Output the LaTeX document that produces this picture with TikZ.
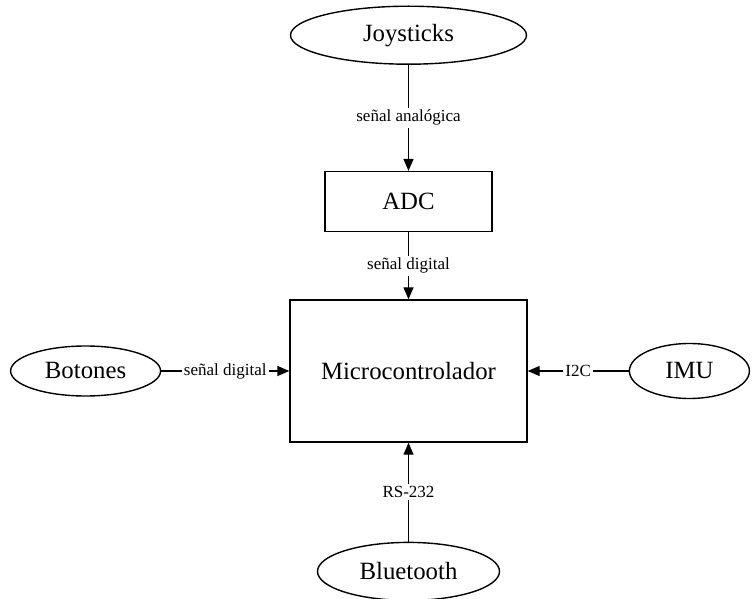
\documentclass[tikz,border=0pt]{standalone}
\usepackage{fontspec}
\setmainfont{Liberation Serif}
\usepackage{tikz}
\usetikzlibrary{arrows.meta,positioning,shapes.geometric}

\begin{document}
\begin{tikzpicture}[
  font=\fontsize{12.4}{14}\selectfont,
  ell/.style={draw, ellipse, line width=0.7pt, inner sep=0pt},
  blk/.style={draw, rectangle, line width=0.7pt, inner sep=0pt},
  lbl/.style={fill=white, inner sep=1pt, font=\fontsize{8.5}{10}\selectfont},
  arr/.style={-{Triangle[length=6pt,width=5pt]}, line width=0.7pt}
]
\useasboundingbox (0,0) rectangle (378pt,-299.5pt);
\node[blk, minimum width=118.5pt, minimum height=71pt] (mcu) at (204.25pt,-185.5pt) {Microcontrolador};
\node[blk, minimum width=83.5pt, minimum height=30pt, above=33.5pt of mcu] (adc) {ADC};
\node[ell, minimum width=118pt, minimum height=29pt, above=53pt of adc] (joy) {Joysticks};
\node[ell, minimum width=75pt, minimum height=25pt, left=64pt of mcu] (btn) {Botones};
\node[ell, minimum width=60pt, minimum height=27.5pt, right=50.5pt of mcu] (imu) {IMU};
\node[ell, minimum width=91pt, minimum height=29pt, below=49.5pt of mcu] (bt) {Bluetooth};
\draw[arr] (joy) -- node[lbl] {señal analógica} (adc);
\draw[arr] (adc) -- node[lbl] {señal digital} (mcu);
\draw[arr] (btn) -- node[lbl] {señal digital} (mcu);
\draw[arr] (imu) -- node[lbl] {I2C} (mcu);
\draw[arr] (bt) -- node[lbl] {RS-232} (mcu);
\end{tikzpicture}
\end{document}
